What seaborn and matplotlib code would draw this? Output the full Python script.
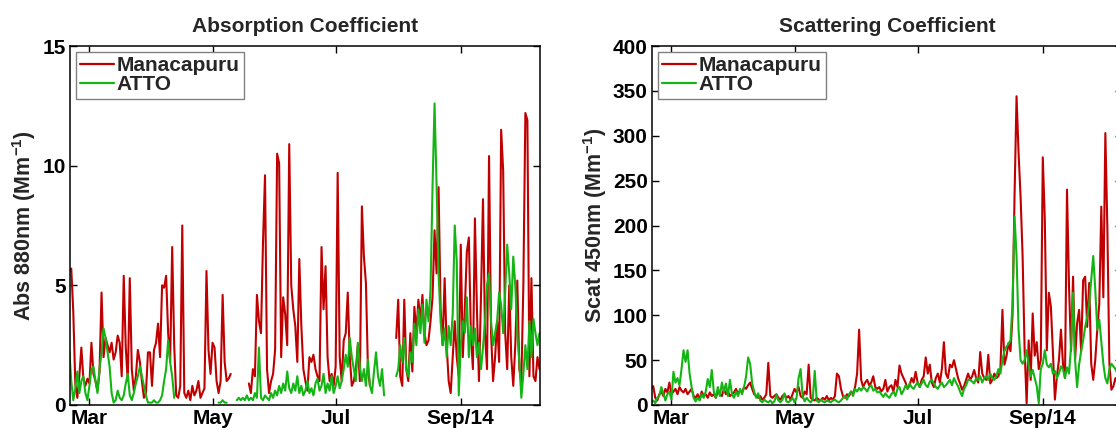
import numpy as np
import pandas as pd
import seaborn as sns
import matplotlib.pyplot as plt
from matplotlib.lines import Line2D

nan = np.nan

# Valores diarios, desde el 19 de febrero de 2014
fecha_inicio = "2014-02-19"

abs_manacapuru = [
    5.6, 5.7, 3.9, 0.9, 0.3, 1.2, 2.4, 1.1, 0.8, 1.1,
    0.9, 2.6, 1.3, 1.0, 0.6, 1.4, 4.7, 2.0, 2.8, 2.5,
    2.2, 2.6, 1.9, 2.2, 2.9, 2.6, 1.2, 5.4, 2.4, 1.0,
    5.3, 1.5, 0.6, 1.2, 2.3, 1.8, 1.0, 0.3, 0.5, 2.2,
    2.2, 0.8, 2.3, 2.6, 3.4, 2.0, 5.0, 4.9, 5.4, 3.0,
    1.8, 6.6, 2.5, 0.4, 0.3, 0.8, 7.5, 0.5, 0.3, 0.6,
    0.2, 0.8, 0.4, 0.6, 1.0, 0.3, 0.5, 0.7, 5.6, 2.3,
    1.3, 2.6, 2.4, 1.0, 0.5, 1.0, 4.6, 1.8, 1.0, 1.1,
    1.3, nan, nan, nan, nan, nan, nan, nan, nan, 0.9,
    0.5, 1.5, 1.2, 4.6, 3.5, 3.0, 6.8, 9.6, 1.5, 0.5,
    1.0, 1.3, 2.3, 10.5, 10.1, 2.0, 4.5, 3.8, 2.5, 10.9,
    5.0, 4.0, 3.3, 1.8, 6.1, 3.3, 1.5, 1.0, 0.6, 2.0,
    1.8, 2.1, 1.5, 1.2, 1.0, 6.6, 4.0, 5.8, 2.0, 1.0,
    1.3, 0.8, 1.6, 9.7, 2.0, 1.0, 2.7, 3.0, 4.7, 2.0,
    0.8, 1.0, 1.5, 2.5, 1.0, 8.3, 6.2, 5.1, 1.5, 0.8,
    nan, nan, nan, nan, nan, nan, nan, nan, nan, nan,
    nan, nan, 2.8, 4.4, 1.2, 0.8, 4.4, 1.5, 1.0, 3.0,
    1.4, 4.1, 3.0, 4.4, 3.5, 4.6, 3.0, 2.5, 2.7, 3.5,
    4.5, 7.3, 5.5, 9.1, 4.0, 2.5, 5.3, 2.5, 1.0, 0.5,
    2.0, 3.5, 2.0, 1.2, 6.7, 2.0, 4.0, 6.4, 7.0, 3.0,
    1.5, 7.8, 4.0, 1.0, 4.5, 8.6, 3.0, 1.5, 10.4, 3.0,
    1.0, 2.0, 3.5, 1.8, 11.5, 9.8, 3.0, 1.5, 5.0, 2.0,
    0.8, 2.5, 5.2, 1.5, 1.0, 5.0, 12.2, 11.9, 1.2, 5.3,
    1.2, 1.0, 2.0, 1.5,
]

abs_atto = [
    2.3, 1.0, 0.2, 0.7, 1.4, 0.5, 1.0, 1.2, 0.5, 0.2,
    0.8, 1.5, 1.6, 1.0, 0.5, 1.5, 2.2, 3.2, 2.8, 2.2,
    1.6, 0.5, 0.1, 0.2, 0.6, 0.3, 0.2, 0.4, 0.9, 1.3,
    0.4, 0.2, 0.5, 0.9, 1.2, 1.6, 1.2, 0.8, 0.4, 0.1,
    0.1, 0.1, 0.2, 0.1, 0.1, 0.2, 0.4, 1.0, 1.5, 2.7,
    1.8, 1.2, 0.3, nan, nan, nan, nan, nan, nan, nan,
    nan, nan, nan, nan, nan, nan, nan, nan, nan, nan,
    nan, nan, nan, nan, 0.1, 0.1, 0.2, 0.1, 0.1, nan,
    nan, nan, nan, 0.2, 0.3, 0.2, 0.3, 0.2, 0.4, 0.2,
    0.3, 0.2, 0.5, 0.3, 2.4, 0.3, 0.2, 0.4, 0.3, 0.2,
    0.5, 0.3, 0.6, 0.4, 0.8, 0.5, 0.9, 0.6, 1.4, 0.7,
    0.5, 0.9, 0.6, 1.2, 0.5, 0.8, 0.4, 0.6, 1.0, 0.5,
    0.7, 0.4, 0.9, 1.1, 0.6, 0.8, 1.3, 0.5, 0.9, 0.6,
    1.2, 0.5, 0.8, 1.2, 0.7, 1.0, 1.5, 2.1, 1.6, 2.8,
    2.0, 1.5, 1.0, 2.6, 1.6, 1.0, 1.5, 0.8, 1.9, 0.8,
    0.5, 1.4, 2.2, 1.2, 0.8, 1.5, 0.4, nan, nan, nan,
    nan, nan, 1.2, 1.5, 2.5, 1.8, 2.8, 1.5, 1.2, 2.2,
    1.8, 3.4, 2.5, 4.0, 3.0, 4.2, 2.6, 4.4, 3.5, 4.8,
    9.1, 12.6, 9.2, 5.5, 3.5, 2.5, 3.2, 2.0, 3.3, 2.5,
    3.8, 7.5, 6.0, 0.4, 2.5, 3.5, 3.0, 4.5, 2.0, 3.3,
    2.5, 3.2, 2.0, 2.6, 1.5, 2.4, 3.5, 5.0, 5.5, 3.5,
    2.5, 3.0, 3.5, 4.7, 4.2, 3.0, 4.7, 6.7, 5.5, 4.0,
    6.2, 5.0, 3.0, 1.8, 0.3, 1.3, 2.5, 1.5, 3.5, 2.0,
    3.6, 3.0, 2.5, 3.0,
]

scat_manacapuru = [
    18, 21, 8, 5, 12, 15, 10, 18, 14, 25,
    12, 15, 18, 12, 20, 16, 14, 18, 12, 15,
    18, 10, 8, 12, 6, 15, 10, 12, 8, 14,
    10, 12, 8, 15, 12, 10, 18, 12, 15, 10,
    12, 14, 18, 12, 16, 14, 20, 18, 22, 25,
    18, 12, 10, 8, 10, 6, 8, 12, 47, 10,
    8, 10, 12, 8, 6, 10, 12, 8, 10, 6,
    12, 18, 14, 20, 10, 8, 15, 12, 45, 8,
    6, 5, 8, 6, 5, 8, 6, 10, 5, 8,
    6, 10, 35, 32, 18, 10, 8, 12, 10, 15,
    12, 20, 35, 84, 28, 20, 25, 28, 22, 25,
    32, 20, 18, 20, 15, 18, 28, 15, 20, 22,
    15, 28, 20, 44, 35, 30, 25, 18, 22, 30,
    25, 37, 25, 20, 28, 32, 53, 35, 45, 25,
    20, 30, 35, 25, 40, 70, 35, 30, 45, 42,
    50, 40, 30, 24, 17, 21, 28, 35, 28, 32,
    39, 30, 25, 59, 35, 30, 28, 56, 24, 28,
    35, 30, 32, 40, 106, 45, 54, 69, 60, 100,
    232, 344, 281, 232, 166, 61, 2, 72, 28, 102,
    55, 70, 40, 50, 276, 207, 61, 125, 110, 60,
    6, 32, 50, 84, 46, 30, 240, 132, 60, 143,
    50, 91, 106, 60, 139, 143, 87, 136, 46, 28,
    50, 84, 113, 221, 120, 303, 196, 46, 17, 21,
    30, 25, 20, 28,
]

scat_atto = [
    3, 5, 2, 8, 10, 20, 13, 5, 12, 15,
    6, 37, 25, 30, 22, 40, 61, 48, 61, 35,
    20, 8, 4, 8, 5, 12, 8, 15, 29, 20,
    39, 15, 8, 20, 10, 25, 15, 24, 10, 28,
    12, 8, 15, 10, 18, 12, 20, 32, 53, 46,
    24, 15, 8, 13, 5, 3, 6, 4, 3, 5,
    2, 4, 11, 5, 3, 6, 13, 4, 3, 5,
    8, 3, 8, 30, 40, 10, 4, 8, 5, 3,
    6, 38, 5, 3, 6, 4, 3, 5, 4, 3,
    5, 6, 4, 3, 5, 8, 10, 6, 12, 15,
    10, 18, 15, 19, 16, 20, 18, 15, 20, 22,
    16, 18, 14, 15, 12, 9, 13, 10, 8, 12,
    15, 10, 18, 20, 12, 16, 22, 18, 24, 20,
    18, 22, 25, 20, 24, 28, 22, 20, 26, 28,
    24, 20, 18, 22, 25, 20, 22, 25, 28, 22,
    30, 25, 21, 15, 10, 18, 22, 28, 28, 26,
    24, 30, 28, 32, 25, 30, 32, 28, 35, 30,
    28, 32, 40, 35, 50, 60, 65, 68, 72, 113,
    210, 166, 84, 50, 46, 50, 61, 45, 32, 39,
    30, 21, 2, 40, 46, 61, 45, 42, 46, 35,
    38, 30, 35, 43, 40, 30, 42, 35, 65, 125,
    50, 20, 45, 60, 72, 87, 98, 113, 140, 166,
    129, 84, 95, 70, 46, 30, 24, 40, 46, 43,
    40, 35, 30, 38,
]

sitios = ["Manacapuru", "ATTO"]
colores = {"Manacapuru": "#C00000", "ATTO": "#14B414"}
meses_ticks = ["2014-03-01", "2014-05-01", "2014-07-01", "2014-09-01"]
meses_labels = ["Mar", "May", "Jul", "Sep/14"]


def tabla_larga(series):
    # una fila por día; los huecos (NaN) parten la línea en tramos
    partes = []
    for sitio, valores in series.items():
        fechas = pd.date_range(fecha_inicio, periods=len(valores), freq="D")
        s = pd.Series(valores, index=fechas, dtype=float)
        tramo = s.isna().cumsum()
        df = pd.DataFrame({"fecha": fechas, "valor": s.values,
                           "sitio": sitio, "tramo": tramo.values})
        partes.append(df.dropna())
    return pd.concat(partes, ignore_index=True)


df_abs = tabla_larga({"Manacapuru": abs_manacapuru, "ATTO": abs_atto})
df_scat = tabla_larga({"Manacapuru": scat_manacapuru, "ATTO": scat_atto})

sns.set_theme(style="ticks")
plt.rcParams.update({
    "font.family": ["Liberation Sans", "DejaVu Sans"],
    "font.weight": "bold",
    "axes.labelweight": "bold",
    "axes.titleweight": "bold",
    "mathtext.fontset": "custom",
    "mathtext.bf": "Liberation Sans:bold",
    "mathtext.rm": "Liberation Sans:bold",
    "mathtext.default": "bf",
    "axes.edgecolor": "black",
    "axes.linewidth": 1.1,
    "xtick.direction": "in",
    "ytick.direction": "in",
    "xtick.top": True,
    "ytick.right": True,
    "xtick.color": "black",
    "ytick.color": "black",
})

fig = plt.figure(figsize=(11.16, 4.30), dpi=100)
ax1 = fig.add_axes([70 / 1116, 25 / 430, 470 / 1116, 359 / 430])
ax2 = fig.add_axes([652 / 1116, 25 / 430, 470 / 1116, 359 / 430])

paneles = [
    (ax1, df_abs, "Absorption Coefficient", r"Abs 880nm (Mm$^{-1}$)", [0, 5, 10, 15], 15),
    (ax2, df_scat, "Scattering Coefficient", r"Scat 450nm (Mm$^{-1}$)", list(range(0, 401, 50)), 400),
]

for ax, df, titulo, etiqueta_y, yticks, ymax in paneles:
    sns.lineplot(data=df, x="fecha", y="valor", hue="sitio", hue_order=sitios,
                 units="tramo", estimator=None, palette=colores, lw=1.5,
                 legend=False, ax=ax)
    ax.set_xlim(pd.Timestamp("2014-02-19 09:00"), pd.Timestamp("2014-10-10 06:00"))
    ax.set_ylim(0, ymax)
    ax.set_xticks(pd.to_datetime(meses_ticks))
    ax.set_xticklabels(meses_labels)
    ax.set_yticks(yticks)
    ax.tick_params(labelsize=15, length=5, width=1, pad=3)
    ax.set_title(titulo, fontsize=15, pad=10)
    ax.set_xlabel("")
    ax.set_ylabel(etiqueta_y, fontsize=15.5, labelpad=3)
    for sp in ax.spines.values():
        sp.set_visible(True)
    manijas = [Line2D([], [], color=colores[s], lw=1.6) for s in sitios]
    ax.legend(manijas, sitios, loc="upper left", fancybox=False, framealpha=1,
              edgecolor="#808080", prop={"weight": "bold", "size": 15},
              handlelength=1.6, handletextpad=0.15, labelspacing=0.0,
              borderpad=0.2, borderaxespad=0.3)

fig.savefig("out.png", dpi=100)
